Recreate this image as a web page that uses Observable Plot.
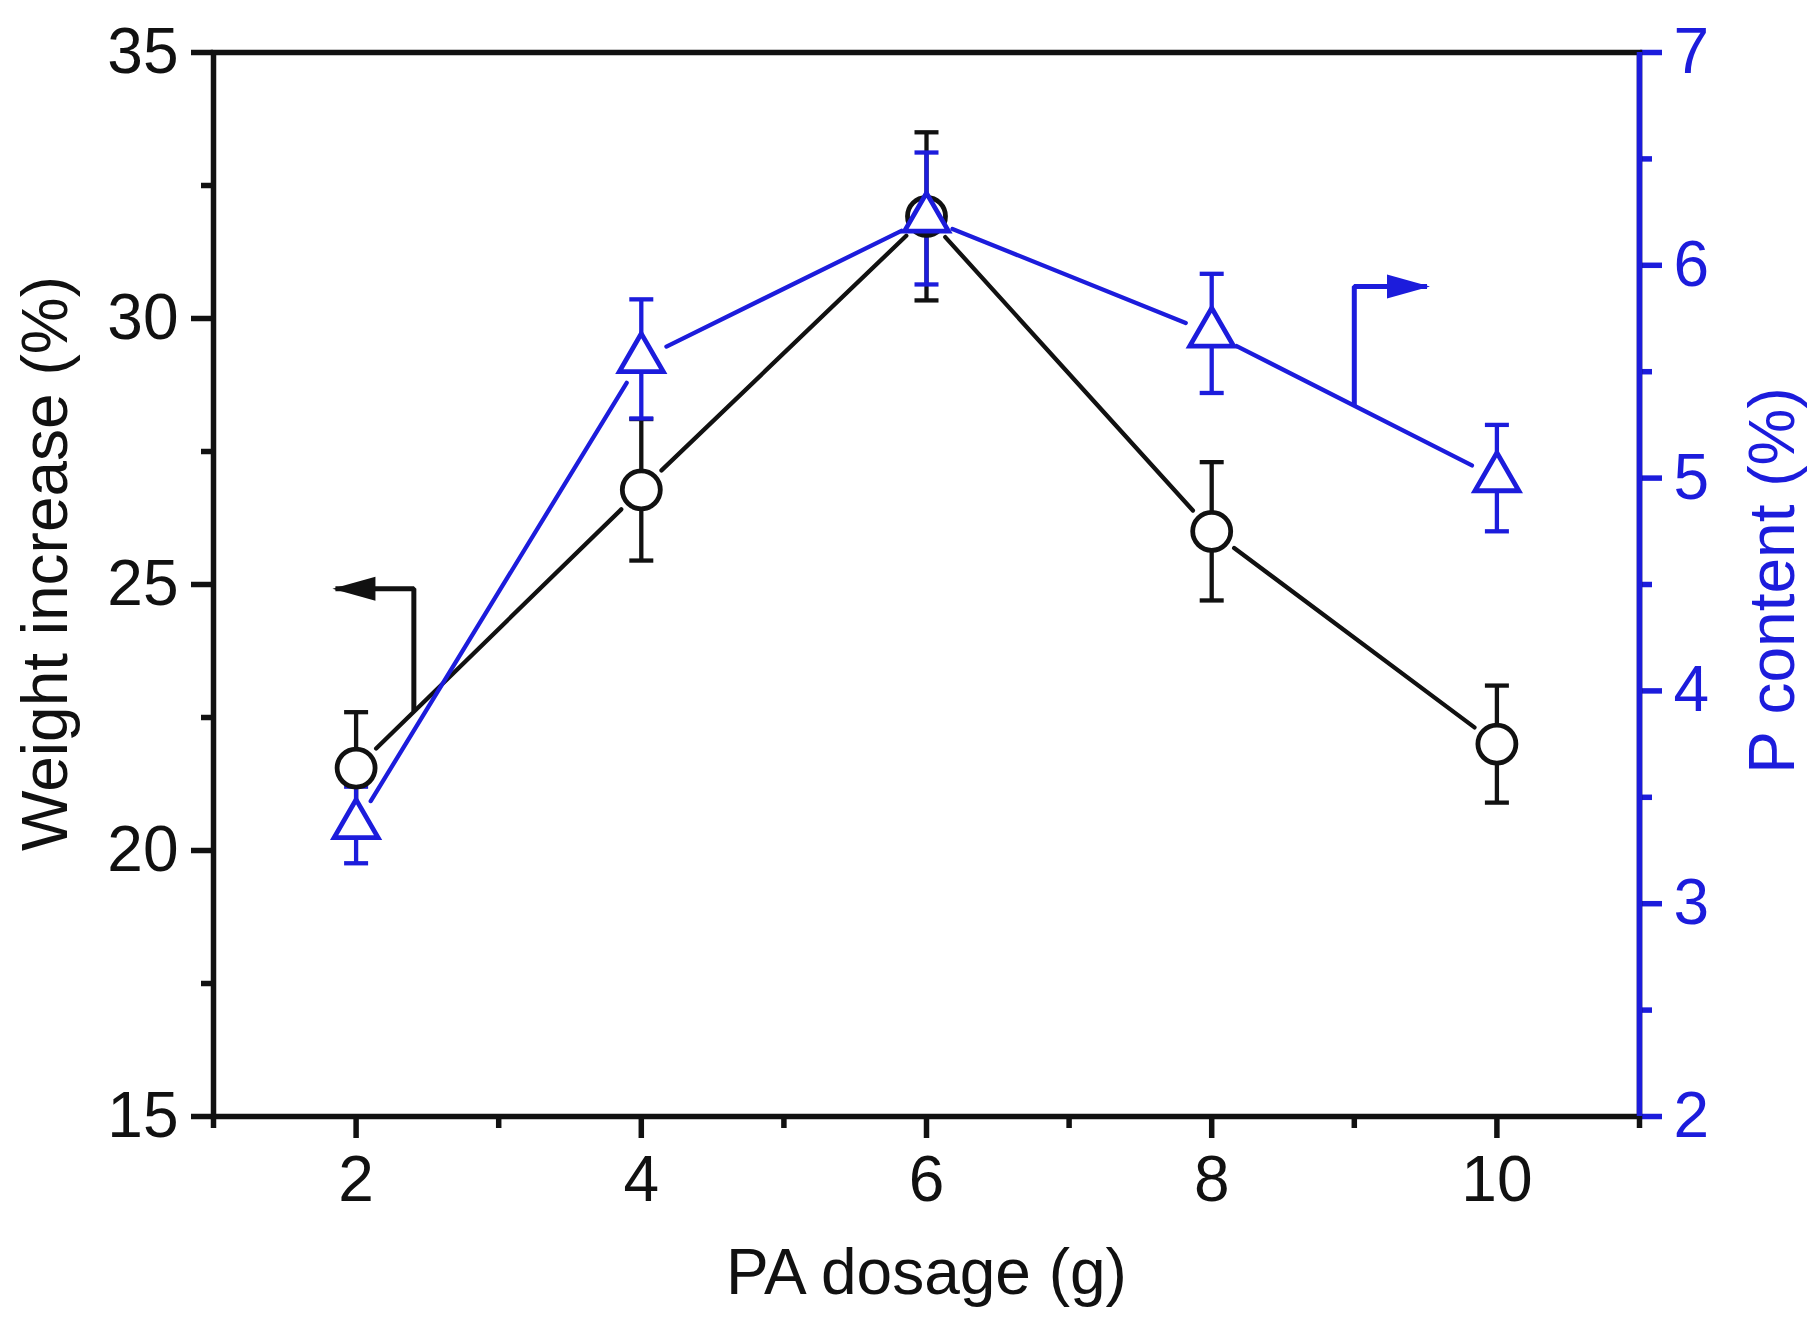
<!DOCTYPE html>
<html>
<head>
<meta charset="utf-8">
<script src="https://cdn.jsdelivr.net/npm/d3@7"></script>
<script src="https://cdn.jsdelivr.net/npm/@observablehq/plot@0.6"></script>
<style>
  html, body { margin: 0; padding: 0; background: #fff; }
  svg { display: block; }
</style>
</head>
<body>
<div id="chart"></div>
<script>
// ---- data ----
const dosage = [2, 4, 6, 8, 10];                       // PA dosage (g)
const weightIncrease = [21.55, 26.78, 31.92, 26.0, 22.0]; // %
const weightErr = [1.05, 1.33, 1.58, 1.30, 1.10];
const pContent = [3.37, 5.56, 6.22, 5.68, 5.00];       // %
const pErr = [0.18, 0.28, 0.31, 0.28, 0.25];

const xMajorTicks = [2, 4, 6, 8, 10];
const xMinorTicks = [1, 3, 5, 7, 9, 11];
const leftMajorTicks = [15, 20, 25, 30, 35];
const leftMinorTicks = [17.5, 22.5, 27.5, 32.5];
const rightMajorTicks = [2, 3, 4, 5, 6, 7];
const rightMinorTicks = [2.5, 3.5, 4.5, 5.5, 6.5];

// annotation arrows (data units): shaft points, last point is the arrow tip
const arrowWeight = [[2.405, 22.62], [2.405, 24.92], [1.855, 24.92]];   // left axis units
const arrowP = [[9.0, 5.34], [9.0, 5.90], [9.51, 5.90]];                // right axis units

// ---- helpers ----
const BLUE = "#1c1cdc";
const BLACK = "#111";
const FONT = 64;
const fmt = d => String(Math.round(d));
// right axis (P content 2..7) mapped onto left axis (15..35)
const toLeft = p => 15 + (p - 2) * 4;
const fromLeft = v => (v - 15) / 4 + 2;

const wData = dosage.map((x, i) => ({x, y: weightIncrease[i], e: weightErr[i]}));
const pData = dosage.map((x, i) => ({x, y: toLeft(pContent[i]), e: pErr[i] * 4}));
const wSegs = d3.pairs(wData).map(([a, b]) => ({x1: a.x, y1: a.y, x2: b.x, y2: b.y}));
const pSegs = d3.pairs(pData).map(([a, b]) => ({x1: a.x, y1: a.y, x2: b.x, y2: b.y}));
const arrowW = arrowWeight.map(([x, y]) => ({x, y}));
const arrowB = arrowP.map(([x, y]) => ({x, y: toLeft(y)}));

const capSymbol = {draw(ctx) { ctx.moveTo(-12, 0); ctx.lineTo(12, 0); }};
const headLeft = {draw(ctx) { ctx.moveTo(-3, 0); ctx.lineTo(40, -12); ctx.lineTo(40, 12); ctx.closePath(); }};
const headRight = {draw(ctx) { ctx.moveTo(3, 0); ctx.lineTo(-40, -12); ctx.lineTo(-40, 12); ctx.closePath(); }};

const AX = 5.5;   // axis line width
const LW = 4.3;   // data line width

const W = 1812, H = 1328;
const chart = Plot.plot({
  width: W,
  height: H,
  marginLeft: 213,
  marginRight: 173,
  marginTop: 52,
  marginBottom: 212,
  style: {fontFamily: "'Liberation Sans', Arial, sans-serif", background: "#fff", color: BLACK},
  x: {domain: [1, 11]},
  y: {domain: [15, 35]},
  marks: [
    // axes (left & bottom black, right blue)
    Plot.axisX(xMajorTicks, {anchor: "bottom", tickSize: 22, tickPadding: 17, fontSize: FONT, strokeWidth: AX, label: null, stroke: BLACK, fill: BLACK, tickFormat: fmt}),
    Plot.axisX(xMinorTicks, {anchor: "bottom", tickSize: 12, tickFormat: () => "", strokeWidth: AX, label: null, stroke: BLACK}),
    Plot.axisY(leftMajorTicks, {anchor: "left", tickSize: 22, tickPadding: 13, fontSize: FONT, strokeWidth: AX, label: null, stroke: BLACK, fill: BLACK, tickFormat: fmt}),
    Plot.axisY(leftMinorTicks, {anchor: "left", tickSize: 12, tickFormat: () => "", strokeWidth: AX, label: null, stroke: BLACK}),
    Plot.axisY(rightMajorTicks.map(toLeft), {anchor: "right", tickSize: 22, tickPadding: 12, fontSize: FONT, strokeWidth: AX, label: null, stroke: BLUE, fill: BLUE, tickFormat: v => fmt(fromLeft(v))}),
    Plot.axisY(rightMinorTicks.map(toLeft), {anchor: "right", tickSize: 12, tickFormat: () => "", strokeWidth: AX, label: null, stroke: BLUE}),
    Plot.frame({stroke: BLACK, strokeWidth: AX}),
    Plot.ruleX([11], {stroke: BLUE, strokeWidth: AX}),

    // axis titles
    Plot.text(["Weight increase (%)"], {frameAnchor: "left", rotate: -90, dx: -166.5, dy: -21, fontSize: FONT, fill: BLACK, textAnchor: "middle", lineAnchor: "middle"}),
    Plot.text(["P content (%)"], {frameAnchor: "right", rotate: -90, dx: 134, dy: -4, fontSize: FONT, fill: BLUE, textAnchor: "middle", lineAnchor: "middle"}),
    Plot.text(["PA dosage (g)"], {frameAnchor: "bottom", dy: 157.5, fontSize: FONT, fill: BLACK, textAnchor: "middle", lineAnchor: "middle"}),

    // connecting lines with gaps at symbols
    Plot.arrow(wSegs, {x1: "x1", y1: "y1", x2: "x2", y2: "y2", insetStart: 28, insetEnd: 28, headLength: 0, stroke: BLACK, strokeWidth: LW}),
    Plot.arrow(pSegs, {x1: "x1", y1: "y1", x2: "x2", y2: "y2", insetStart: 28, insetEnd: 28, headLength: 0, stroke: BLUE, strokeWidth: LW}),

    // annotation arrows
    Plot.line(arrowW, {x: "x", y: "y", stroke: BLACK, strokeWidth: 5, strokeLinejoin: "miter", strokeLinecap: "butt"}),
    Plot.dot(arrowW.slice(-1), {x: "x", y: "y", symbol: headLeft, r: 1, fill: BLACK, stroke: "none"}),
    Plot.line(arrowB, {x: "x", y: "y", stroke: BLUE, strokeWidth: 5, strokeLinejoin: "miter", strokeLinecap: "butt"}),
    Plot.dot(arrowB.slice(-1), {x: "x", y: "y", symbol: headRight, r: 1, fill: BLUE, stroke: "none"}),

    // error bars
    Plot.ruleX(wData, {x: "x", y1: d => d.y - d.e, y2: d => d.y + d.e, stroke: BLACK, strokeWidth: LW}),
    Plot.dot(wData, {x: "x", y: d => d.y + d.e, symbol: capSymbol, r: 1, stroke: BLACK, strokeWidth: LW, fill: "none"}),
    Plot.dot(wData, {x: "x", y: d => d.y - d.e, symbol: capSymbol, r: 1, stroke: BLACK, strokeWidth: LW, fill: "none"}),
    Plot.ruleX(pData, {x: "x", y1: d => d.y - d.e, y2: d => d.y + d.e, stroke: BLUE, strokeWidth: LW}),
    Plot.dot(pData, {x: "x", y: d => d.y + d.e, symbol: capSymbol, r: 1, stroke: BLUE, strokeWidth: LW, fill: "none"}),
    Plot.dot(pData, {x: "x", y: d => d.y - d.e, symbol: capSymbol, r: 1, stroke: BLUE, strokeWidth: LW, fill: "none"}),

    // symbols
    Plot.dot(wData, {x: "x", y: "y", r: 19, symbol: "circle", fill: "#fff", stroke: BLACK, strokeWidth: 4.8}),
    Plot.dot(pData, {x: "x", y: "y", r: 16.3, symbol: "triangle", fill: "#fff", stroke: BLUE, strokeWidth: 4.8})
  ]
});
document.getElementById("chart").appendChild(chart);
</script>
</body>
</html>
